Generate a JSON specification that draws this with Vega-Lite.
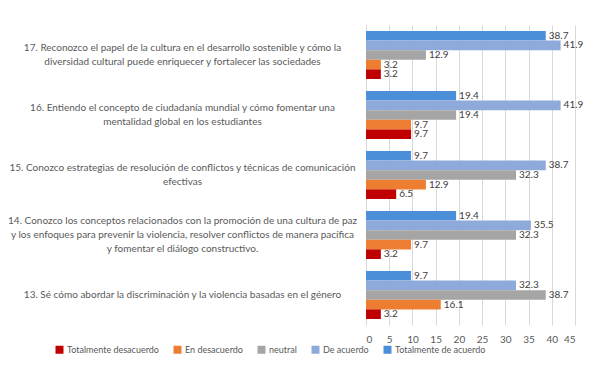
{
  "$schema": "https://vega.github.io/schema/vega-lite/v6.json",
  "width": 209,
  "height": 300,
  "autosize": {"type": "none"},
  "padding": {"left": 366, "top": 25, "right": 25, "bottom": 43},
  "background": "white",
  "config": {
    "view": {"stroke": null},
    "font": "Lato"
  },
  "data": {
    "values": [
      {"q": "17. Reconozco el papel de la cultura en el desarrollo sostenible y cómo la|diversidad cultural puede enriquecer y fortalecer las sociedades", "s": "Totalmente de acuerdo", "v": 38.7},
      {"q": "17. Reconozco el papel de la cultura en el desarrollo sostenible y cómo la|diversidad cultural puede enriquecer y fortalecer las sociedades", "s": "De acuerdo", "v": 41.9},
      {"q": "17. Reconozco el papel de la cultura en el desarrollo sostenible y cómo la|diversidad cultural puede enriquecer y fortalecer las sociedades", "s": "neutral", "v": 12.9},
      {"q": "17. Reconozco el papel de la cultura en el desarrollo sostenible y cómo la|diversidad cultural puede enriquecer y fortalecer las sociedades", "s": "En desacuerdo", "v": 3.2},
      {"q": "17. Reconozco el papel de la cultura en el desarrollo sostenible y cómo la|diversidad cultural puede enriquecer y fortalecer las sociedades", "s": "Totalmente desacuerdo", "v": 3.2},
      {"q": "16. Entiendo el concepto de ciudadanía mundial y cómo fomentar una|mentalidad global en los estudiantes", "s": "Totalmente de acuerdo", "v": 19.4},
      {"q": "16. Entiendo el concepto de ciudadanía mundial y cómo fomentar una|mentalidad global en los estudiantes", "s": "De acuerdo", "v": 41.9},
      {"q": "16. Entiendo el concepto de ciudadanía mundial y cómo fomentar una|mentalidad global en los estudiantes", "s": "neutral", "v": 19.4},
      {"q": "16. Entiendo el concepto de ciudadanía mundial y cómo fomentar una|mentalidad global en los estudiantes", "s": "En desacuerdo", "v": 9.7},
      {"q": "16. Entiendo el concepto de ciudadanía mundial y cómo fomentar una|mentalidad global en los estudiantes", "s": "Totalmente desacuerdo", "v": 9.7},
      {"q": "15. Conozco estrategias de resolución de conflictos y técnicas de comunicación|efectivas", "s": "Totalmente de acuerdo", "v": 9.7},
      {"q": "15. Conozco estrategias de resolución de conflictos y técnicas de comunicación|efectivas", "s": "De acuerdo", "v": 38.7},
      {"q": "15. Conozco estrategias de resolución de conflictos y técnicas de comunicación|efectivas", "s": "neutral", "v": 32.3},
      {"q": "15. Conozco estrategias de resolución de conflictos y técnicas de comunicación|efectivas", "s": "En desacuerdo", "v": 12.9},
      {"q": "15. Conozco estrategias de resolución de conflictos y técnicas de comunicación|efectivas", "s": "Totalmente desacuerdo", "v": 6.5},
      {"q": "14. Conozco los conceptos relacionados con la promoción de una cultura de paz|y los enfoques para prevenir la violencia, resolver conflictos de manera pacífica|y fomentar el diálogo constructivo.", "s": "Totalmente de acuerdo", "v": 19.4},
      {"q": "14. Conozco los conceptos relacionados con la promoción de una cultura de paz|y los enfoques para prevenir la violencia, resolver conflictos de manera pacífica|y fomentar el diálogo constructivo.", "s": "De acuerdo", "v": 35.5},
      {"q": "14. Conozco los conceptos relacionados con la promoción de una cultura de paz|y los enfoques para prevenir la violencia, resolver conflictos de manera pacífica|y fomentar el diálogo constructivo.", "s": "neutral", "v": 32.3},
      {"q": "14. Conozco los conceptos relacionados con la promoción de una cultura de paz|y los enfoques para prevenir la violencia, resolver conflictos de manera pacífica|y fomentar el diálogo constructivo.", "s": "En desacuerdo", "v": 9.7},
      {"q": "14. Conozco los conceptos relacionados con la promoción de una cultura de paz|y los enfoques para prevenir la violencia, resolver conflictos de manera pacífica|y fomentar el diálogo constructivo.", "s": "Totalmente desacuerdo", "v": 3.2},
      {"q": "13. Sé cómo abordar la discriminación y la violencia basadas en el género", "s": "Totalmente de acuerdo", "v": 9.7},
      {"q": "13. Sé cómo abordar la discriminación y la violencia basadas en el género", "s": "De acuerdo", "v": 32.3},
      {"q": "13. Sé cómo abordar la discriminación y la violencia basadas en el género", "s": "neutral", "v": 38.7},
      {"q": "13. Sé cómo abordar la discriminación y la violencia basadas en el género", "s": "En desacuerdo", "v": 16.1},
      {"q": "13. Sé cómo abordar la discriminación y la violencia basadas en el género", "s": "Totalmente desacuerdo", "v": 3.2}
    ]
  },
  "encoding": {
    "y": {
      "field": "q",
      "type": "nominal",
      "sort": null,
      "scale": {"paddingInner": 0.2, "paddingOuter": 0.1},
      "axis": {
        "title": null,
        "ticks": false,
        "domainColor": "#d9d9d9",
        "labelAlign": "center",
        "labelPadding": 184,
        "labelLimit": 0,
        "labelExpr": "split(datum.label, '|')",
        "labelFontSize": 10,
        "labelLineHeight": 14,
        "labelColor": "#595959",
        "labelFont": "Lato",
        "labelOffset": {"expr": "-(length(split(datum.value, '|')) - 1) * 7"}
      }
    },
    "yOffset": {
      "field": "s",
      "type": "nominal",
      "sort": ["Totalmente de acuerdo", "De acuerdo", "neutral", "En desacuerdo", "Totalmente desacuerdo"],
      "scale": {"paddingInner": 0, "paddingOuter": 0}
    },
    "x": {
      "field": "v",
      "type": "quantitative",
      "scale": {"domain": [0, 45], "nice": false},
      "axis": {
        "title": null,
        "values": [0, 5, 10, 15, 20, 25, 30, 35, 40, 45],
        "grid": true,
        "gridColor": "#d9d9d9",
        "domain": false,
        "ticks": false,
        "labelPadding": 9,
        "labelFontSize": 10,
        "labelColor": "#595959",
        "labelFont": "Lato"
      }
    }
  },
  "layer": [
    {
      "mark": {"type": "bar"},
      "encoding": {
        "color": {
          "field": "s",
          "type": "nominal",
          "scale": {
            "domain": ["Totalmente desacuerdo", "En desacuerdo", "neutral", "De acuerdo", "Totalmente de acuerdo"],
            "range": ["#c00000", "#ed7d31", "#a5a5a5", "#8eaadb", "#4a8fd8"]
          },
          "legend": {
            "title": null,
            "orient": "none",
            "direction": "horizontal",
            "legendX": -311,
            "legendY": 320,
            "symbolType": "square",
            "symbolSize": 64,
            "symbolStrokeWidth": 0,
            "labelFontSize": 9,
            "labelColor": "#595959",
            "labelFont": "Lato",
            "columnPadding": 14,
            "labelOffset": 3
          }
        }
      }
    },
    {
      "mark": {"type": "text", "align": "left", "baseline": "middle", "dx": 3, "fontSize": 10, "color": "#404040", "font": "Lato"},
      "encoding": {
        "text": {"field": "v", "type": "quantitative", "format": ".1f"}
      }
    }
  ]
}
